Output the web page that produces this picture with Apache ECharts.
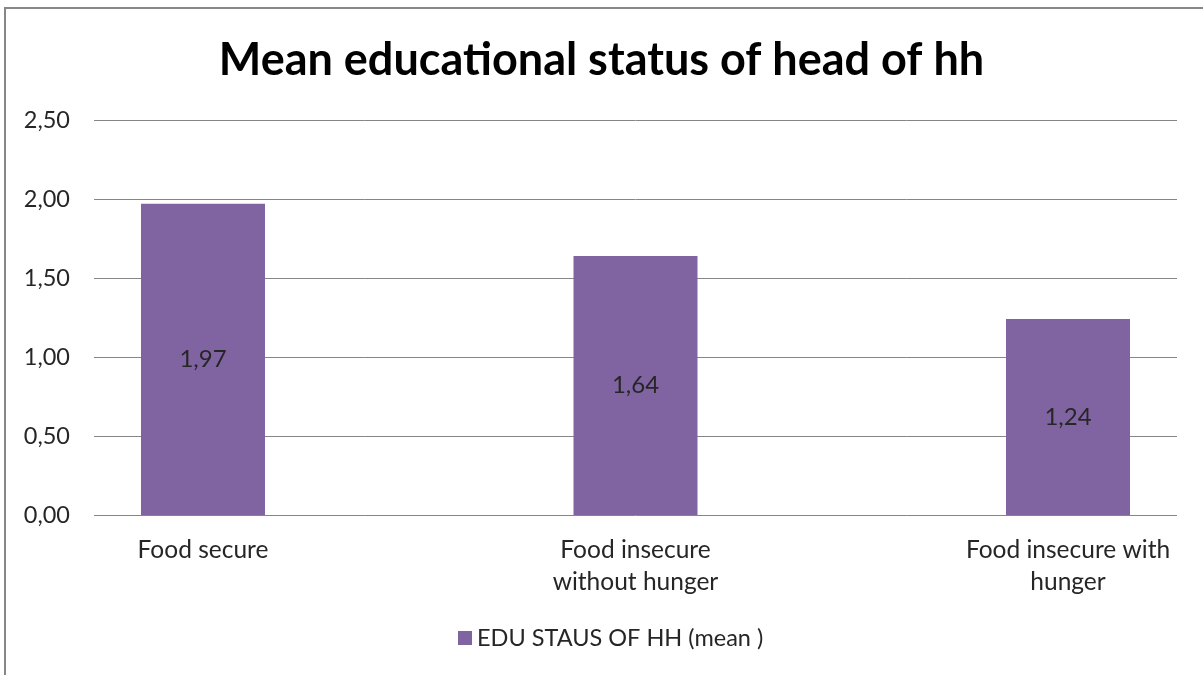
<!DOCTYPE html>
<html>
<head>
<meta charset="utf-8">
<style>
  html, body { margin: 0; padding: 0; background: #fff; }
  #chart { width: 1203px; height: 675px; }
</style>
<script src="https://cdn.jsdelivr.net/npm/echarts@6/dist/echarts.min.js"></script>
</head>
<body>
<div id="chart"></div>
<script>
// Household food security groups and the mean education status of the household head
const categories = ['Food secure', 'Food insecure\nwithout hunger', 'Food insecure with\nhunger'];
const categoryPos = [0, 1, 2];
const eduMeans = [1.97, 1.64, 1.24];
const seriesName = 'EDU STAUS OF HH (mean )';
const yTicks = { min: 0, max: 2.5, interval: 0.5 };

const FONT = 'Lato, "Open Sans", sans-serif';
const TEXT = '#262626';
const fmt = v => v.toFixed(2).replace('.', ',');

const chart = echarts.init(document.getElementById('chart'), null, { renderer: 'canvas' });
chart.setOption({
  animation: false,
  backgroundColor: '#ffffff',
  title: {
    text: 'Mean educational status of head of hh',
    left: 'center',
    top: 33,
    textStyle: { fontFamily: FONT, fontWeight: 'bold', fontSize: 45, color: '#000' }
  },
  legend: {
    bottom: 20,
    left: 453,
    itemWidth: 14,
    itemHeight: 14,
    itemGap: 8,
    icon: 'rect',
    textStyle: { fontFamily: FONT, fontSize: 23.5, color: TEXT },
    data: [seriesName]
  },
  graphic: [{
    type: 'rect',
    shape: { x: 5, y: 8, width: 1400, height: 900 },
    style: { fill: 'none', stroke: '#878787', lineWidth: 2 },
    silent: true
  }],
  grid: { left: 94, right: 26, top: 120, bottom: 160 },
  xAxis: {
    type: 'value',
    // category slots are wider than the plotted area, so the outer halves are trimmed
    min: -0.252,
    max: 2.252,
    splitLine: { show: false },
    axisLine: { show: false },
    axisTick: { show: false },
    axisLabel: {
      customValues: categoryPos,
      formatter: v => categories[Math.round(v)],
      margin: 19,
      fontFamily: FONT, fontSize: 24.5, color: TEXT, lineHeight: 32,
      showMinLabel: true, showMaxLabel: true
    }
  },
  yAxis: {
    type: 'value',
    min: yTicks.min, max: yTicks.max, interval: yTicks.interval,
    axisLine: { show: false },
    axisTick: { show: false },
    axisLabel: { margin: 24, fontFamily: FONT, fontSize: 23.5, color: TEXT, formatter: fmt },
    splitLine: { lineStyle: { color: '#868686', width: 1 } }
  },
  series: [{
    name: seriesName,
    type: 'bar',
    data: eduMeans.map((v, i) => [categoryPos[i], v]),
    barWidth: 124,
    itemStyle: { color: '#8064A2' },
    label: {
      show: true,
      position: 'inside',
      fontFamily: FONT,
      fontSize: 24,
      color: TEXT,
      formatter: p => fmt(p.value[1])
    }
  }]
});
</script>
</body>
</html>
